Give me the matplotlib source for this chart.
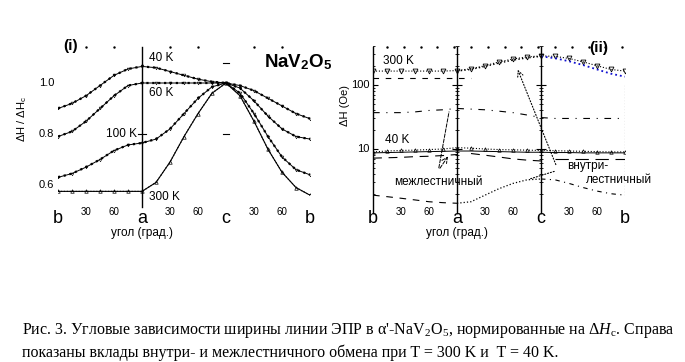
import numpy as np
from matplotlib import pyplot as plt

plt.rcParams['font.family'] = ['Liberation Sans', 'DejaVu Sans']
plt.rcParams['mathtext.fontset'] = 'custom'
plt.rcParams['mathtext.rm'] = 'Liberation Serif'
plt.rcParams['mathtext.it'] = 'Liberation Serif:italic'

# angle axis: b -> a -> c -> b, 90 degrees each
ang = [0, 15, 30, 45, 60, 75, 90, 105, 120, 135, 150, 165, 180, 195, 210, 225, 240, 255, 270]
axis_names = ['b', 'a', 'c', 'b']
axis_pos = [0, 90, 180, 270]

# (i) normalized linewidth dH/dH_c
n40 = [0.90, 0.92, 0.95, 0.99, 1.03, 1.055, 1.065, 1.06, 1.045, 1.03, 1.015, 1.005, 1.0,
       0.99, 0.97, 0.94, 0.91, 0.88, 0.86]
n60 = [0.79, 0.81, 0.85, 0.90, 0.95, 0.99, 1.0, 1.0, 1.0, 1.0, 1.0, 1.0, 1.0,
       0.98, 0.93, 0.87, 0.82, 0.79, 0.78]
n100 = [0.63, 0.645, 0.67, 0.70, 0.735, 0.757, 0.765, 0.78, 0.82, 0.88, 0.94, 0.985, 1.0,
        0.96, 0.88, 0.79, 0.71, 0.66, 0.64]
n300 = [0.575, 0.575, 0.575, 0.575, 0.575, 0.575, 0.575, 0.61, 0.69, 0.79, 0.88, 0.96, 1.0,
        0.95, 0.85, 0.74, 0.65, 0.59, 0.56]

# (ii) linewidth in Oe and its intra/inter ladder parts
h300 = [165, 165, 165, 165, 165, 165, 168, 180, 200, 230, 255, 275, 285, 280, 260, 230, 200, 175, 165]
fit300_ac = [165, 175, 195, 220, 245, 265, 280]
fit300_cb = [280, 262, 235, 205, 175, 150, 135]
intra300 = [128, 128, 128, 128, 128, 128, 128, 128]
inter300 = [37, 37, 37, 38, 40, 41, 43, 42, 41, 39, 37, 34, 31, 30, 30, 30, 30, 30, 30]
h40 = [9.0, 9.3, 9.5, 9.6, 9.8, 10.0, 10.5, 10.3, 10.0, 9.8, 9.7, 9.6, 9.5, 9.4, 9.3, 9.2, 9.1, 9.0, 9.0]
fit40 = [8.7, 8.8, 8.9, 9.0, 9.1, 9.2, 9.3, 9.3, 9.2, 9.1, 9.0, 8.9, 8.9, 8.8, 8.8, 8.7, 8.7, 8.7, 8.7]
inter40 = [7.2, 7.3, 7.4, 7.6, 7.7, 7.9, 8.2, 8.5, 8.0, 7.5, 7.0, 6.7, 6.5, 7.0, 7.0, 7.0, 7.0, 7.0, 7.0]
intra40 = [1.9, 1.8, 1.7, 1.6, 1.5, 1.45, 1.42, 1.5, 1.9, 2.4, 2.9, 3.3, 3.4, 3.3, 2.9, 2.5, 2.2, 2.0, 1.9]

W, H = 685, 362
fig = plt.figure(figsize=(W / 100, H / 100), dpi=100)


def rect(x0, y0, x1, y1):
    return [x0 / W, 1 - y1 / H, (x1 - x0) / W, (y1 - y0) / H]


# ---------------- panel (i)
ax1 = fig.add_axes(rect(58, 45, 310, 195))
ax1.axis('off')
ax1.set_xlim(0, 270)
ax1.set_ylim(1.0 - 112 * 0.2 / 51, 1.0 + 38 * 0.2 / 51)

for vals in [n40, n60, n100]:
    ax1.plot(ang, vals, '-', color='k', lw=0.7)
    ax1.plot(ang, vals, ':', color='k', lw=1.6, marker='v', ms=2, mfc='none', mew=0.4)
ax1.plot(ang, n300, '-', color='k', lw=0.8)
ax1.plot(ang, n300, ':', color='k', lw=0.8, marker='^', ms=2.5, mfc='none', mew=0.5)

trx = ax1.get_xaxis_transform()
ax1.plot([90, 90], [0.987, -0.08], color='k', lw=1, transform=trx, clip_on=False)
for p in [30, 60, 120, 150, 210, 240]:
    ax1.plot(p, 0.99, '.', color='k', ms=1.5, transform=trx, clip_on=False)
ax1.plot([86, 94], [0.8, 0.8], color='k', lw=0.8)
for yv in [1.08, 0.8]:
    ax1.plot([177, 183], [yv, yv], color='k', lw=0.8)

for v in [1.0, 0.8, 0.6]:
    ax1.text(-4, v, f'{v:.1f}', ha='right', va='center', fontsize=8)
for p, s in zip(axis_pos, axis_names):
    ax1.text(p, -0.155, s, ha='center', va='center', fontsize=13, transform=trx)
for base in [0, 90, 180]:
    for d in [30, 60]:
        ax1.text(base + d, -0.115, str(d), ha='center', va='center', fontsize=7, transform=trx)
ax1.text(90, -0.255, 'угол (град.)', ha='center', va='center', fontsize=8.5, transform=trx)
ax1.text(-38, 0.86, r'ΔH / ΔH$_\mathregular{c}$', rotation=90, ha='center', va='center', fontsize=8)

ax1.text(97, 1.098, '40 K', ha='left', va='center', fontsize=8.5)
ax1.text(97, 0.962, '60 K', ha='left', va='center', fontsize=8.5)
ax1.text(85, 0.80, '100 K', ha='right', va='center', fontsize=8.5)
ax1.text(98, 0.553, '300 K', ha='left', va='center', fontsize=8.5)
ax1.text(6, 1.145, '(i)', ha='left', va='center', fontsize=11, fontweight='bold')
ax1.text(221, 1.08, r'NaV$_\mathregular{2}$O$_\mathregular{5}$', ha='left', va='center',
         fontsize=13.5, fontweight='bold')

# ---------------- panel (ii)
ax2 = fig.add_axes(rect(373, 45, 625, 212))
ax2.axis('off')
ax2.set_yscale('log')
ax2.set_xlim(0, 270)
ax2.set_ylim(10 ** (1 - 63 / 64), 10 ** (2 + 40 / 64))
trx2 = ax2.get_xaxis_transform()

ax2.plot(ang, h300, ':', color='k', lw=0.8, marker='v', ms=3.5, mfc='none', mew=0.6)
ax2.plot(ang[6:13], fit300_ac, ':', color='k', lw=1)
ax2.plot(ang[12:], fit300_cb, ':', color='#1010d0', lw=1.3)
ax2.plot(ang[:8], intra300, '--', color='k', lw=0.8, dashes=(5, 6))
ax2.plot(ang, inter300, '-.', color='k', lw=0.8, dashes=(6, 6, 1, 6))
ax2.plot(ang, h40, ':', color='k', lw=0.8, marker='^', ms=2.5, mfc='none', mew=0.5)
ax2.plot(ang, fit40, '-', color='k', lw=0.7)
ax2.plot(ang[:7], inter40[:7], '--', color='k', lw=0.8, dashes=(8, 6))
ax2.plot(ang[7:13], inter40[7:13], '--', color='k', lw=0.8, dashes=(8, 6))
ax2.plot(ang[13:], inter40[13:], '-', color='k', lw=0.8, dashes=(12, 6))
ax2.plot(ang[:7], intra40[:7], '--', color='k', lw=0.8, dashes=(6, 6))
ax2.plot(ang[6:13], intra40[6:13], ':', color='k', lw=0.9)
ax2.plot(ang[12:], intra40[12:], '-.', color='k', lw=0.8, dashes=(4, 4, 1, 4))

for p in [0, 90, 180]:
    ax2.plot([p, p], [0.988, -0.006], color='k', lw=1, transform=trx2, clip_on=False)
ax2.plot([270, 270], [100, 1.9], ':', color='k', lw=0.8)
minor = [m * 10 ** e for e in [0, 1, 2] for m in range(2, 10) if m * 10 ** e < 420]
for p in [0, 90, 180]:
    ax2.plot([p] * len(minor), minor, '_', color='k', ms=3, mew=0.6)
    ax2.plot([p, p], [10, 100], '_', color='k', ms=7, mew=0.8)
for p in range(15, 270, 18):
    ax2.plot(p, 0.99, '.', color='k', ms=1.5, transform=trx2, clip_on=False)

for v in [100, 10]:
    ax2.text(-4, v, str(v), ha='right', va='center', fontsize=8)
for p, s in zip(axis_pos, axis_names):
    ax2.text(p, -0.04, s, ha='center', va='center', fontsize=13, transform=trx2)
for base in [0, 90, 180]:
    for d in [30, 60]:
        ax2.text(base + d, 0.0, str(d), ha='center', va='center', fontsize=7, transform=trx2)
ax2.text(90, -0.125, 'угол (град.)', ha='center', va='center', fontsize=8.5, transform=trx2)
ax2.text(-30, 100, 'ΔH (Oe)', rotation=90, ha='center', va='top', fontsize=8)

ax2.text(11, 235, '300 K', ha='left', va='center', fontsize=8.5)
ax2.text(13, 14, '40 K', ha='left', va='center', fontsize=8.5)
ax2.text(242, 380, '(ii)', ha='center', va='center', fontsize=11, fontweight='bold')
ax2.text(70, 3.0, 'межлестничный', ha='center', va='center', fontsize=8.5)
ax2.text(208, 5.4, 'внутри-', ha='left', va='center', fontsize=8.5)
ax2.text(228, 3.25, 'лестничный', ha='left', va='center', fontsize=8.5)

ax2.annotate('', xy=(82, 42), xytext=(70, 4.6),
             arrowprops=dict(arrowstyle='-', ls='--', lw=0.7, color='k'))
ax2.annotate('', xy=(82, 8.3), xytext=(70, 4.6),
             arrowprops=dict(arrowstyle='->', ls='--', lw=0.7, color='k'))
ax2.annotate('', xy=(154, 190), xytext=(197, 5.2),
             arrowprops=dict(arrowstyle='->', ls=':', lw=0.8, color='k'))
ax2.annotate('', xy=(165, 3.3), xytext=(197, 4.6),
             arrowprops=dict(arrowstyle='-', ls=':', lw=0.8, color='k'))

# ---------------- caption
cap_font = ['Liberation Serif', 'DejaVu Serif']
line1 = (r"Рис. 3. Угловые зависимости ширины линии ЭПР в α'-NaV$_\mathregular{2}$O$_\mathregular{5}$, "
         r"нормированные на $\mathit{ΔH}_\mathregular{c}$. Справа")
line2 = 'показаны вклады внутри- и межлестничного обмена при T = 300 K и  T = 40 K.'
fig.text(22 / W, 1 - 334 / H, line1, fontsize=11.5, family=cap_font, va='baseline')
fig.text(22 / W, 1 - 357 / H, line2, fontsize=11.5, family=cap_font, va='baseline')

fig.savefig('out.png', dpi=100)
